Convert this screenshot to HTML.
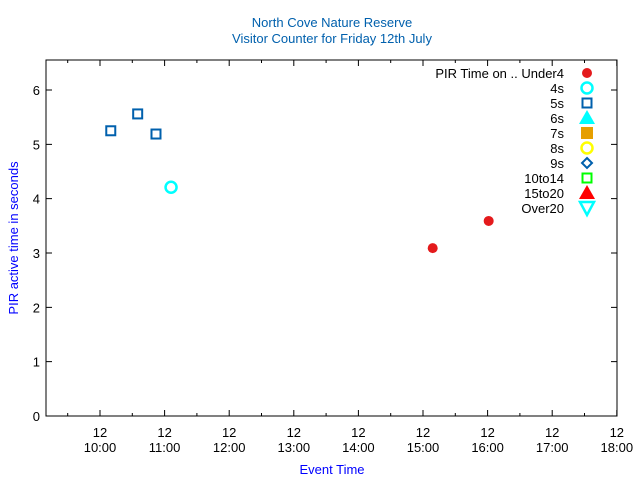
<!DOCTYPE html>
<html><head><meta charset="utf-8"><style>
body{margin:0;background:#fff}
svg text{font-family:"Liberation Sans",sans-serif;font-size:13px}
</style></head><body>
<svg id="chart" width="640" height="480" viewBox="0 0 640 480" xmlns="http://www.w3.org/2000/svg">
<text x="332" y="27" text-anchor="middle" fill="#0060ad">North Cove Nature Reserve</text>
<text x="332" y="43" text-anchor="middle" fill="#0060ad">Visitor Counter for Friday 12th July</text>
<text x="332" y="474" text-anchor="middle" fill="#0000ff">Event Time</text>
<text transform="translate(18,238) rotate(-90)" text-anchor="middle" fill="#0000ff">PIR active time in seconds</text>
<g id="axes"></g>
<g id="marks"></g>
<g id="legend"></g>
</svg>
<script>
const xTickLabels=["10:00","11:00","12:00","13:00","14:00","15:00","16:00","17:00","18:00"];
const yTicks=[0,1,2,3,4,5,6];
// minutes after 10:00
const under4Times=[309,361];
const under4Values=[3.09,3.59];
const s4Times=[66];
const s4Values=[4.21];
const s5Times=[10,35,52];
const s5Values=[5.25,5.56,5.19];
const legendLabels=["PIR Time on .. Under4","4s","5s","6s","7s","8s","9s","10to14","15to20","Over20"];

const L=46,R=617,T=60,B=416;
const X=m=>100+m*(64.6/60);
const Y=v=>B-v*54.33;
const NS="http://www.w3.org/2000/svg";
function mk(tag,attrs,parent,text){const e=document.createElementNS(NS,tag);for(const k in attrs)e.setAttribute(k,attrs[k]);if(text!==undefined)e.textContent=text;parent.appendChild(e);return e;}
const axes=document.getElementById('axes');
const frame=mk('rect',{x:L,y:T,width:R-L,height:B-T,fill:'none',stroke:'#000','stroke-width':1},axes);


yTicks.forEach(v=>{
  const y=Y(v);
  const t=mk('path',{d:`M${L} ${y}h6M${R} ${y}h-6`,stroke:'#000'},axes);
  
  
  const l=mk('text',{x:L-6,y:y+5,'text-anchor':'end',fill:'#000'},axes,String(v));
  
  
});
for(let m=-30;m<=480;m+=30){
  const x=X(m); if(x<L+1||x>R+1) continue;
  const major=m%60===0; const h=major?6:3;
  const t=mk('path',{d:`M${x} ${B}v-${h}M${x} ${T}v${h}`,stroke:'#000'},axes);
  
  
}
xTickLabels.forEach((s,i)=>{
  const x=X(i*60);
  const a=mk('text',{x:x,y:437,'text-anchor':'middle',fill:'#000'},axes,'12');
  
  
  const b=mk('text',{x:x,y:452,'text-anchor':'middle',fill:'#000'},axes,s);
  
  
});
const marks=document.getElementById('marks');
under4Times.forEach((m,i)=>{
  const c=mk('circle',{cx:X(m),cy:Y(under4Values[i]),r:5,fill:'#e41a1c'},marks);
  
  
});
s4Times.forEach((m,i)=>{
  const c=mk('circle',{cx:X(m),cy:Y(s4Values[i]),r:5.5,fill:'none',stroke:'#00ffff','stroke-width':2.5},marks);
  
  
});
s5Times.forEach((m,i)=>{
  const r=mk('rect',{x:X(m)-4.5,y:Y(s5Values[i])-4.5,width:9,height:9,fill:'none',stroke:'#0060ad','stroke-width':2},marks);
  
  
});
const lg=document.getElementById('legend');
const sx=587;
legendLabels.forEach((s,i)=>{
  const y=73+i*15;
  const t=mk('text',{x:564,y:y+5,'text-anchor':'end',fill:'#000'},lg,s);
  
  
  let e;
  if(i===0) e=mk('circle',{cx:sx,cy:y,r:5,fill:'#e41a1c'},lg);
  else if(i===1) e=mk('circle',{cx:sx,cy:y,r:5.5,fill:'none',stroke:'#00ffff','stroke-width':2.5},lg);
  else if(i===2) e=mk('rect',{x:sx-4.5,y:y-4.5,width:9,height:9,fill:'none',stroke:'#0060ad','stroke-width':2},lg);
  else if(i===3) e=mk('path',{d:`M${sx} ${y-8}L${sx+8} ${y+6}L${sx-8} ${y+6}Z`,fill:'#00ffff'},lg);
  else if(i===4) e=mk('rect',{x:sx-6,y:y-6,width:12,height:12,fill:'#e69f00'},lg);
  else if(i===5) e=mk('circle',{cx:sx,cy:y,r:5.5,fill:'none',stroke:'#ffff00','stroke-width':2.5},lg);
  else if(i===6) e=mk('path',{d:`M${sx} ${y-5}L${sx+5} ${y}L${sx} ${y+5}L${sx-5} ${y}Z`,fill:'none',stroke:'#0060ad','stroke-width':2},lg);
  else if(i===7) e=mk('rect',{x:sx-4.5,y:y-4.5,width:9,height:9,fill:'none',stroke:'#00ff00','stroke-width':2},lg);
  else if(i===8) e=mk('path',{d:`M${sx} ${y-8}L${sx+8} ${y+6}L${sx-8} ${y+6}Z`,fill:'#ff0000'},lg);
  else e=mk('path',{d:`M${sx-7} ${y-6}L${sx+7} ${y-6}L${sx} ${y+7}Z`,fill:'none',stroke:'#00ffff','stroke-width':2.5},lg);
  
  
});
</script>
</body></html>
